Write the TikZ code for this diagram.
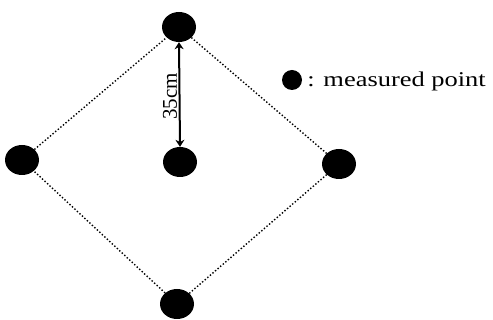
\documentclass[tikz,border=0pt]{standalone}
\usepackage{fontspec}
\setmainfont{Liberation Serif}
\usetikzlibrary{arrows.meta,shapes.geometric}
\begin{document}
\begin{tikzpicture}[x=1pt,y=-1pt,
  pt/.style={ellipse,fill=black,inner sep=0pt,minimum width=34pt,minimum height=30pt},
  edge/.style={dotted,line width=1.4pt},
  dim/.style={line width=2pt,{Stealth[length=7pt,width=9pt]}-{Stealth[length=7pt,width=9pt]}}]
\useasboundingbox (0,0) rectangle (493,320);
\node[pt] (top) at (179,27) {};
\node[pt] (left) at (22,160) {};
\node[pt] (mid) at (180,162) {};
\node[pt] (right) at (339,164) {};
\node[pt] (bot) at (177,304) {};
\draw[edge] (top) -- (right);
\draw[edge] (right) -- (bot);
\draw[edge] (bot) -- (left);
\draw[edge] (left) -- (top);
\draw[dim] (mid.north) -- node[pos=0.48,rotate=90,anchor=south,font=\fontsize{21}{23}\selectfont,inner sep=1.5pt] (lab) {35cm} (top.south);
\node[circle,fill=black,inner sep=0pt,minimum size=20pt] (leg) at (292,80) {};
\node[anchor=base west,font=\fontsize{21}{23}\selectfont,xscale=1.26,inner sep=0pt] (legt) at (307,87) {: measured point};
\end{tikzpicture}
\end{document}
